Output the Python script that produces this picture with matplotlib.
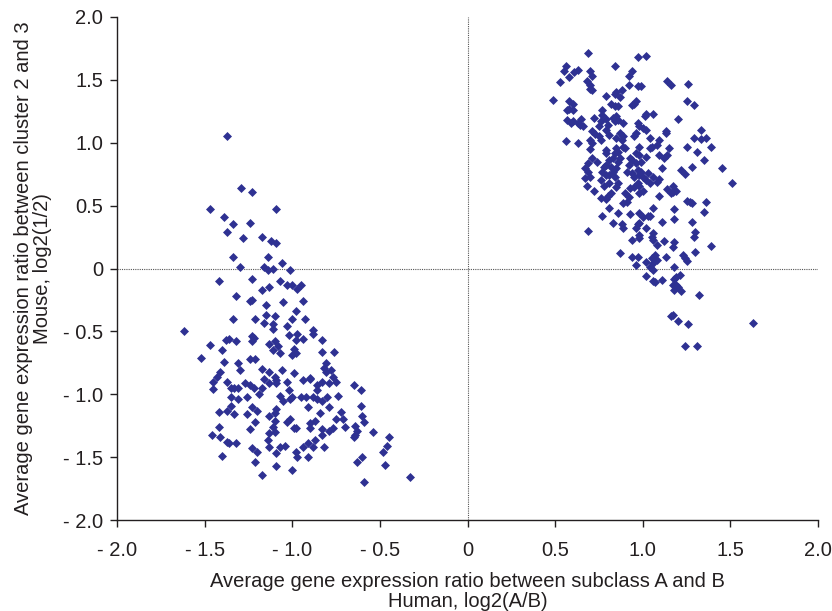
import matplotlib.pyplot as plt
import numpy as np

# ---- data (log2 ratios) ----
# cluster on the lower left: human log2(A/B), mouse log2(1/2)
left_x = [
    -1.37, -1.29, -1.23, -1.47, -1.09, -1.39, -1.34, -1.24, -1.37, -1.28, -1.17, -1.12, -1.09,
    -1.34, -1.14, -1.06, -1.30, -1.16, -1.14, -1.11, -1.01, -1.42, -1.23, -1.07, -1.03, -1.17,
    -1.13, -1.32, -1.24, -1.23, -1.05, -1.15, -0.95, -0.97, -0.94, -1.00,
    -1.62, -1.34, -1.21, -1.15, -1.10, -1.16, -1.11, -1.11, -1.03, -1.00, -1.02, -1.47, -1.38,
    -1.36, -1.32, -1.23, -1.22, -1.23, -1.13, -1.10, -1.08, -1.11, -1.07, -0.99, -1.00, -1.40,
    -1.52, -1.39, -1.31, -1.24, -1.21, -1.30, -1.17, -1.13, -1.10, -1.06, -1.09, -1.03, -1.41,
    -1.43, -1.45, -1.45, -1.37, -1.35, -1.33, -1.31, -1.27, -1.24, -1.22, -1.16, -1.17, -1.19,
    -1.13, -1.09, -1.02, -1.00, -1.01, -1.07, -1.05, -1.35, -1.31, -1.26, -1.35, -1.42, -1.37,
    -1.33, -1.26, -1.23, -1.20, -1.13, -1.10, -1.09, -1.10, -1.21, -1.03, -1.01, -1.11, -1.13,
    -1.10, -1.42, -1.24, -1.46, -1.41, -1.37, -1.36, -1.32, -1.14, -1.13, -1.23, -1.20, -1.07,
    -1.04, -1.09, -1.40, -1.21, -1.09, -1.17, -1.00, -0.99,
    -0.98, -0.93, -0.88, -0.88, -0.97, -0.98, -0.94, -0.83, -0.98, -0.83, -0.76, -0.81, -0.82,
    -0.81, -0.78, -0.77, -0.75, -0.99, -0.94, -0.90, -0.90, -0.83, -0.79, -0.86, -0.86, -0.65,
    -0.61, -0.95, -0.92, -0.88, -0.86, -0.83, -0.80, -0.74, -0.91, -0.79, -0.84, -0.72, -0.61,
    -0.60, -0.59, -0.90, -0.87, -0.90, -0.75, -0.71, -0.70, -0.98, -0.83, -0.83, -0.79, -0.77,
    -0.64, -0.63, -0.65, -0.64, -0.54, -0.45, -0.87, -0.91, -0.88, -0.94, -0.82, -0.98, -0.97,
    -0.91, -0.46, -0.48, -0.60, -0.63, -0.47, -0.59, -0.33,
]
left_y = [
    1.05, 0.64, 0.61, 0.47, 0.47, 0.41, 0.35, 0.36, 0.29, 0.24, 0.25, 0.22, 0.20,
    0.09, 0.09, 0.04, 0.01, 0.01, -0.01, 0.00, -0.01, -0.10, -0.08, -0.10, -0.13, -0.17,
    -0.15, -0.22, -0.26, -0.25, -0.27, -0.29, -0.13, -0.16, -0.26, -0.13,
    -0.50, -0.40, -0.40, -0.37, -0.38, -0.43, -0.44, -0.48, -0.46, -0.40, -0.53, -0.61, -0.57,
    -0.56, -0.58, -0.54, -0.55, -0.58, -0.60, -0.58, -0.62, -0.65, -0.67, -0.64, -0.69, -0.65,
    -0.71, -0.74, -0.75, -0.72, -0.72, -0.81, -0.80, -0.82, -0.86, -0.81, -0.89, -0.90, -0.82,
    -0.86, -0.90, -0.96, -0.90, -0.95, -0.95, -0.95, -0.91, -0.93, -0.95, -0.88, -0.95, -1.00,
    -0.91, -0.91, -0.97, -1.02, -1.04, -1.01, -1.05, -1.02, -1.04, -1.02, -1.09, -1.14, -1.13,
    -1.16, -1.16, -1.10, -1.13, -1.17, -1.15, -1.12, -1.21, -1.22, -1.22, -1.20, -1.26, -1.31,
    -1.30, -1.26, -1.28, -1.32, -1.34, -1.38, -1.39, -1.39, -1.36, -1.42, -1.43, -1.46, -1.42,
    -1.41, -1.47, -1.49, -1.54, -1.57, -1.64, -1.60, -1.27,
    -0.34, -0.40, -0.49, -0.52, -0.52, -0.57, -0.56, -0.57, -0.67, -0.66, -0.66, -0.75, -0.79,
    -0.82, -0.81, -0.86, -0.90, -0.83, -0.89, -0.87, -0.88, -0.90, -0.91, -0.93, -0.97, -0.93,
    -0.97, -1.02, -1.02, -1.02, -1.04, -1.05, -1.02, -1.01, -1.10, -1.10, -1.15, -1.14, -1.09,
    -1.17, -1.22, -1.23, -1.21, -1.27, -1.20, -1.20, -1.26, -1.27, -1.28, -1.32, -1.29, -1.27,
    -1.25, -1.29, -1.34, -1.32, -1.30, -1.34, -1.36, -1.39, -1.42, -1.42, -1.42, -1.46, -1.50,
    -1.50, -1.41, -1.46, -1.50, -1.54, -1.56, -1.70, -1.66,
]

# cluster on the upper right
right_x = [
    0.69, 0.97, 1.02, 0.56, 0.55, 0.63, 0.61, 0.84, 0.58, 0.53, 0.70, 0.71, 0.94, 0.92, 0.68,
    0.70, 0.71, 0.70, 0.92, 0.97, 0.99, 0.88, 0.85, 0.84, 0.79, 0.87, 0.49, 0.58, 0.60, 0.58,
    0.60, 0.57, 0.82, 0.84, 0.86, 0.95, 0.96, 0.94, 1.06, 0.77, 1.01, 1.02, 0.57, 0.59, 0.60,
    0.63, 0.65, 0.64, 0.66, 0.72, 0.77, 0.76, 0.79, 0.83, 0.85, 0.86, 0.84, 0.89, 0.97, 0.98,
    1.00, 1.02, 0.75, 0.80, 0.79, 0.71, 0.73, 0.75, 0.76, 0.87, 0.85, 0.88, 0.56, 0.63, 0.70,
    0.71, 1.04, 0.89, 0.90, 0.85, 0.84, 0.86, 0.98, 0.96, 0.98, 1.04, 0.70, 0.79, 0.79, 0.71,
    0.81, 0.83, 0.87, 0.86, 0.93, 0.94, 0.92, 0.96, 0.69, 0.67, 0.69, 0.70, 0.78, 0.79, 0.77,
    0.79, 0.81, 0.85, 0.83, 0.84, 0.91, 0.94, 0.97, 0.99, 0.98, 0.95, 1.00, 1.03, 1.06, 1.02,
    1.04, 0.67, 0.68, 0.76, 0.78, 0.81, 0.86, 0.85, 0.97, 0.98, 0.72, 0.82, 0.80, 0.90, 0.92,
    0.98, 0.76, 0.79,
    1.14, 1.16, 1.26, 1.25, 1.29, 1.20, 1.13, 1.13, 1.33, 1.09, 1.08, 1.05, 1.29, 1.33, 1.36,
    1.15, 1.25, 1.39, 1.31, 1.09, 1.12, 1.14, 1.35, 1.11, 1.28, 1.22, 1.24, 1.45, 1.08, 1.09,
    1.14, 1.17, 1.17, 1.19, 1.16, 1.51, 1.09,
    1.25, 1.27, 1.28, 1.36, 1.06, 1.18, 1.35, 1.04, 1.18, 1.11, 1.28, 1.06, 1.05, 1.06, 1.30,
    1.29, 1.12, 1.08, 1.18, 1.17, 1.39, 1.30, 1.07, 1.05, 1.08, 1.06, 1.04, 1.06, 1.13, 1.23,
    1.24, 1.25, 1.18, 1.19, 1.21, 1.18, 1.07, 1.11, 1.17, 1.19, 1.18, 1.20, 1.22, 1.32, 1.17,
    1.16, 1.20, 1.26, 1.63, 1.24, 1.31,
    0.91, 0.89, 0.81, 0.77, 0.86, 0.93, 0.98, 1.00, 1.03, 0.69, 0.83, 0.88, 0.89, 0.96, 0.97,
    0.98, 1.02, 0.98, 0.98, 0.94, 0.87, 0.94, 0.97, 0.96, 1.02, 1.02, 1.06,
    0.81, 0.89, 0.95, 0.96, 0.99, 1.02, 0.74, 0.82, 0.93, 0.95, 1.00,
]
right_y = [
    1.71, 1.68, 1.69, 1.61, 1.57, 1.58, 1.56, 1.61, 1.52, 1.48, 1.57, 1.53, 1.57, 1.53, 1.49,
    1.46, 1.42, 1.43, 1.46, 1.45, 1.45, 1.42, 1.40, 1.39, 1.37, 1.36, 1.34, 1.33, 1.31, 1.27,
    1.26, 1.26, 1.31, 1.29, 1.29, 1.31, 1.33, 1.30, 1.23, 1.26, 1.21, 1.23, 1.18, 1.16, 1.17,
    1.16, 1.19, 1.14, 1.13, 1.20, 1.22, 1.17, 1.19, 1.20, 1.21, 1.18, 1.17, 1.16, 1.16, 1.13,
    1.12, 1.10, 1.13, 1.14, 1.10, 1.09, 1.07, 1.05, 1.02, 1.08, 1.04, 1.02, 1.01, 1.00, 1.02,
    1.00, 1.04, 0.97, 0.96, 0.96, 0.92, 0.93, 0.97, 0.92, 0.90, 0.96, 0.95, 0.94, 0.92, 0.88,
    0.86, 0.88, 0.88, 0.85, 0.88, 0.86, 0.82, 0.84, 0.84, 0.80, 0.77, 0.73, 0.81, 0.82, 0.77,
    0.74, 0.74, 0.80, 0.77, 0.73, 0.77, 0.76, 0.78, 0.77, 0.74, 0.73, 0.73, 0.76, 0.73, 0.70,
    0.68, 0.72, 0.66, 0.70, 0.66, 0.68, 0.68, 0.65, 0.68, 0.66, 0.62, 0.60, 0.58, 0.60, 0.57,
    0.60, 0.56, 0.55,
    1.49, 1.46, 1.47, 1.33, 1.30, 1.19, 1.09, 1.08, 1.10, 1.02, 0.98, 0.97, 1.04, 1.03, 1.04,
    0.96, 0.97, 0.97, 0.93, 0.90, 0.88, 0.90, 0.86, 0.80, 0.81, 0.78, 0.75, 0.80, 0.69, 0.71,
    0.63, 0.66, 0.61, 0.62, 0.60, 0.68, 0.58,
    0.54, 0.53, 0.52, 0.53, 0.48, 0.47, 0.45, 0.42, 0.39, 0.37, 0.37, 0.28, 0.25, 0.23, 0.29,
    0.25, 0.22, 0.19, 0.21, 0.17, 0.18, 0.13, 0.11, 0.08, 0.07, 0.04, 0.01, -0.01, 0.09, 0.11,
    0.08, 0.06, 0.01, -0.07, -0.05, -0.08, -0.11, -0.09, -0.13, -0.13, -0.17, -0.15, -0.18, -0.21, -0.37,
    -0.38, -0.42, -0.44, -0.43, -0.62, -0.62,
    0.53, 0.52, 0.48, 0.42, 0.44, 0.43, 0.44, 0.41, 0.42, 0.30, 0.36, 0.35, 0.32, 0.32, 0.35,
    0.36, 0.32, 0.27, 0.24, 0.23, 0.12, 0.09, 0.09, 0.03, 0.05, -0.06, -0.10,
    1.06, 1.05, 1.05, 1.08, 0.85, 0.89, 0.85, 0.81, 0.64, 0.65, 0.62,
]

tick_vals = [-2.0, -1.5, -1.0, -0.5, 0.0, 0.5, 1.0, 1.5, 2.0]
tick_text = ['- 2.0', '- 1.5', '- 1.0', '- 0.5', '0', '0.5', '1.0', '1.5', '2.0']

x_title = 'Average gene expression ratio between subclass A and B\nHuman, log2(A/B)'
y_title = 'Average gene expression ratio between cluster 2 and 3\nMouse, log2(1/2)'

# ---- plotting ----
plt.rcParams['font.family'] = ['Liberation Sans', 'DejaVu Sans']

fig = plt.figure(figsize=(8.32, 6.11), dpi=100)
ax = fig.add_axes([0.1406, 0.1489, 0.8426, 0.8233])

pts_x = np.array(left_x + right_x)
pts_y = np.array(left_y + right_y)
ax.scatter(pts_x, pts_y, marker='D', s=21, color='#2E3192', linewidths=0, zorder=3)

# dotted zero lines
ax.axhline(0, color='#555555', lw=0.8, ls=(0, (1, 1)), zorder=1)
ax.axvline(0, color='#555555', lw=0.8, ls=(0, (1, 1)), zorder=1)

ax.set_xlim(-2, 2)
ax.set_ylim(-2, 2)
ax.set_xticks(tick_vals)
ax.set_xticklabels(tick_text)
ax.set_yticks(tick_vals)
ax.set_yticklabels(tick_text)

for side in ['top', 'right']:
    ax.spines[side].set_visible(False)
for side in ['left', 'bottom']:
    ax.spines[side].set_linewidth(1.0)
    ax.spines[side].set_color('#231F20')

ax.tick_params(direction='out', length=5, width=1, labelsize=14.5, colors='#231F20', pad=5)
ax.tick_params(axis='x', pad=10)

ax.set_xlabel(x_title, fontsize=14.5, color='#231F20', labelpad=9, linespacing=1.05)
ax.set_ylabel(y_title, fontsize=14.5, color='#231F20', labelpad=8, linespacing=1.0)

fig.savefig('out.png', dpi=100)
